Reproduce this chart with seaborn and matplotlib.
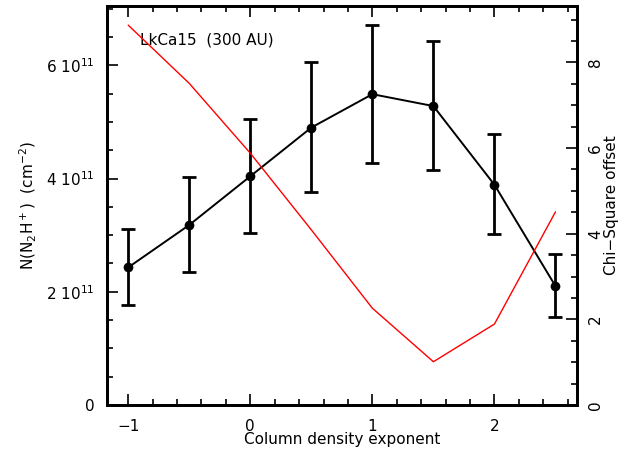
import matplotlib
matplotlib.use("Agg")
import matplotlib.pyplot as plt
import seaborn as sns
import pandas as pd
from matplotlib.ticker import FuncFormatter, MultipleLocator

# Data
exponent = [-1.0, -0.5, 0.0, 0.5, 1.0, 1.5, 2.0, 2.5]
column_e11 = [2.43, 3.18, 4.04, 4.90, 5.49, 5.28, 3.89, 2.10]        # N(N2H+) in 1e11 cm^-2
err_upper_e11 = [3.11, 4.02, 5.06, 6.05, 6.71, 6.43, 4.78, 2.66]
err_lower_e11 = [1.76, 2.35, 3.04, 3.76, 4.28, 4.15, 3.02, 1.55]
chi_square = [8.87, 7.51, 5.88, 4.09, 2.26, 1.01, 1.89, 4.51]
left_ticks = [0, 2, 4, 6]
right_ticks = [0, 2, 4, 6, 8]
x_ticks = [-1, 0, 1, 2]

df = pd.DataFrame({"x": exponent, "n": column_e11, "chi": chi_square,
                   "hi": err_upper_e11, "lo": err_lower_e11})

sns.set_style("ticks", {"axes.edgecolor": "black", "text.color": "black",
                        "axes.labelcolor": "black", "xtick.color": "black",
                        "ytick.color": "black"})
plt.rcParams["font.family"] = ["DejaVu Sans"]
plt.rcParams["font.size"] = 11

XLIM = (-1.172, 2.675)

fig = plt.figure(figsize=(6.27, 4.51), dpi=100)
ax = fig.add_axes([0.171, 0.102, 0.749, 0.885])

yerr = [df["n"] - df["lo"], df["hi"] - df["n"]]
ax.errorbar(df["x"], df["n"], yerr=yerr, fmt="none", ecolor="black",
            elinewidth=2, capsize=5, capthick=2, zorder=3)
sns.lineplot(data=df, x="x", y="n", ax=ax, color="black", lw=1.4,
             marker="o", markersize=7, markeredgewidth=0, zorder=4)

ax.set_xlim(*XLIM)
ax.set_ylim(0, 7.05)
ax.set_xticks(x_ticks)
ax.set_xticklabels(["\u22121", "0", "1", "2"])
ax.xaxis.set_minor_locator(MultipleLocator(0.2))
ax.set_yticks(left_ticks)
ax.yaxis.set_minor_locator(MultipleLocator(0.5))
ax.yaxis.set_major_formatter(FuncFormatter(
    lambda v, p: "0" if v == 0 else "%d 10$^{11}$" % v))
ax.set_xlabel("Column density exponent", fontsize=11, labelpad=-1)
ax.set_ylabel("N(N$_2$H$^+$)  (cm$^{-2}$)", fontsize=11, labelpad=5)
for s in ax.spines.values():
    s.set_linewidth(2)
    s.set_color("black")
ax.text(-0.904, 6.44, "LkCa15  (300 AU)", fontsize=11, va="center", ha="left",
        color="black")

ax2 = ax.twinx()
sns.lineplot(data=df, x="x", y="chi", ax=ax2, color="red", lw=1, zorder=5)
ax2.set_ylim(0, 9.32)
ax2.set_yticks(right_ticks)
ax2.yaxis.set_minor_locator(MultipleLocator(0.5))
ax2.tick_params(axis="y", which="both", direction="in", right=True, left=False,
                colors="black")
ax2.tick_params(axis="y", which="major", length=8, width=1.2, pad=8, labelsize=11,
                labelrotation=90)
ax2.tick_params(axis="y", which="minor", length=4, width=1.2)
for lab in ax2.get_yticklabels():
    lab.set_va("center")
ax2.set_ylabel("Chi\u2212Square offset", fontsize=11, labelpad=1, color="black")
for s in ax2.spines.values():
    s.set_linewidth(2)
    s.set_color("black")

# ticks of the primary axes
ax.tick_params(axis="both", which="both", direction="in", left=True, right=False,
               bottom=True, top=False, colors="black")
ax.tick_params(axis="x", which="major", length=8, width=1.2, pad=10, labelsize=11)
ax.tick_params(axis="x", which="minor", length=4, width=1.2)
ax.tick_params(axis="y", which="major", length=8, width=1.2, pad=9, labelsize=11)
ax.tick_params(axis="y", which="minor", length=4, width=1.2)

# top-edge tick marks at the axis' own tick locations (drawn as tick markers)
xt = ax.get_xaxis_transform()
major_locs = [v for v in ax.xaxis.get_majorticklocs() if XLIM[0] <= v <= XLIM[1]]
minor_locs = [v for v in ax.xaxis.get_minorticklocs() if XLIM[0] <= v <= XLIM[1]]
ax.plot(major_locs, [1] * len(major_locs), transform=xt, linestyle="none",
        marker=3, markersize=8, markeredgewidth=1.2, color="black",
        clip_on=False, zorder=20)
ax.plot(minor_locs, [1] * len(minor_locs), transform=xt, linestyle="none",
        marker=3, markersize=4, markeredgewidth=1.2, color="black",
        clip_on=False, zorder=20)

fig.savefig("out.png", dpi=100)
